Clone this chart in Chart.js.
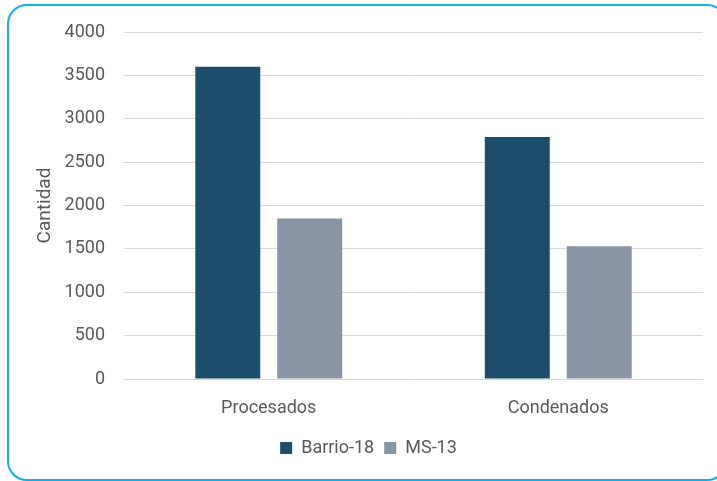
<!DOCTYPE html>
<html>
<head>
<meta charset="utf-8">
<script src="https://cdn.jsdelivr.net/npm/chart.js@4"></script>
<style>
  html, body { margin: 0; padding: 0; background: #fff; overflow: hidden; }
  #wrap { position: relative; width: 717px; height: 481px; }
  #frame {
    position: absolute; left: 7px; top: 4px; width: 716px; height: 473px;
    border: 2px solid #12aee9; border-radius: 20px; box-sizing: content-box;
    pointer-events: none;
  }
  canvas { position: absolute; left: 0; top: 0; }
</style>
</head>
<body>
<div id="wrap">
  <canvas id="chart" width="717" height="481"></canvas>
  <div id="frame"></div>
</div>
<script>
// categories and series
const categories = ['Procesados', 'Condenados'];
const barrio18 = [3600, 2790];
const ms13 = [1850, 1530];
const yTicks = [0, 500, 1000, 1500, 2000, 2500, 3000, 3500, 4000];

const textColor = '#595959';
const gridColor = '#d9d9d9';
const fontFamily = 'Roboto, "Noto Sans", sans-serif';

const ctx = document.getElementById('chart').getContext('2d');
new Chart(ctx, {
    type: 'bar',
    data: {
        labels: categories,
        datasets: [
            {
                label: 'Barrio-18',
                data: barrio18,
                backgroundColor: '#1a4e6c',
                categoryPercentage: 0.566,
                barPercentage: 0.793
            },
            {
                label: 'MS-13',
                data: ms13,
                backgroundColor: '#8795a5',
                categoryPercentage: 0.566,
                barPercentage: 0.793
            }
        ]
    },
    options: {
        responsive: false,
        animation: false,
        layout: { padding: { top: 32, right: 14, bottom: 14, left: 34 } },
        plugins: {
            legend: {
                position: 'bottom',
                labels: {
                    color: textColor,
                    font: { family: fontFamily, size: 18 },
                    boxWidth: 12,
                    boxHeight: 12,
                    padding: 10
                }
            },
            tooltip: { enabled: false }
        },
        scales: {
            x: {
                grid: { display: false },
                border: { display: false },
                ticks: { color: textColor, font: { family: fontFamily, size: 18 }, padding: 11 },
                afterFit: s => { s.height = 50; }
            },
            y: {
                min: 0,
                max: 4000,
                afterBuildTicks: s => { s.ticks = yTicks.map(v => ({ value: v })); },
                grid: { color: gridColor, lineWidth: 1, drawTicks: false },
                border: { display: false },
                ticks: {
                    color: textColor,
                    font: { family: fontFamily, size: 18 },
                    padding: 19,
                    callback: v => String(v)
                },
                title: {
                    display: true,
                    text: 'Cantidad',
                    color: textColor,
                    font: { family: fontFamily, size: 19 },
                    padding: { top: 0, bottom: 0 }
                },
                afterFit: s => { s.width = 90; }
            }
        }
    }
});
</script>
</body>
</html>
